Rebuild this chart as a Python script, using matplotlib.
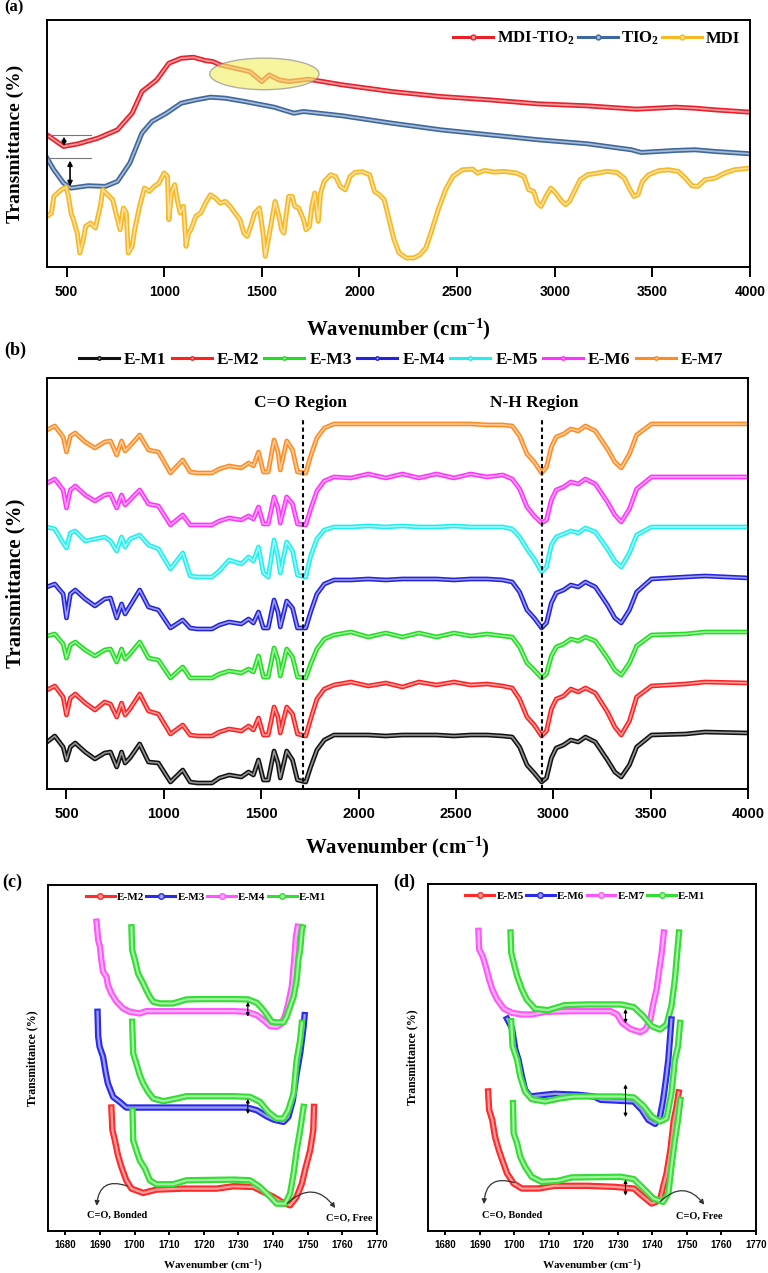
import matplotlib
matplotlib.use('Agg')
import matplotlib.pyplot as plt
import matplotlib.patheffects as pe
from matplotlib.patches import Ellipse
from matplotlib.lines import Line2D
from matplotlib.colors import to_rgb

SERIF = 'Liberation Serif'
SANS = 'Liberation Sans'
plt.rcParams['mathtext.fontset'] = 'custom'
plt.rcParams['mathtext.rm'] = 'Liberation Serif:bold'
plt.rcParams['mathtext.it'] = 'Liberation Serif:bold'
plt.rcParams['mathtext.bf'] = 'Liberation Serif:bold'

# ---------------- panel (a) data ----------------
WN_MDI_TIO2 = [400, 485, 560, 661, 761, 836, 886, 962, 1024, 1087, 1150, 1212, 1250, 1287, 1363, 1438,
               1500, 1538, 1588, 1638, 1739, 1914, 2165, 2416, 2666, 2917, 3168, 3418, 3619, 3719, 3820, 4000]
T_MDI_TIO2 = [397, 362, 370, 387, 412, 462, 527, 562, 612, 627, 630, 620, 617, 607, 597, 587,
              557, 577, 562, 557, 564, 547, 527, 512, 502, 490, 484, 474, 480, 477, 472, 465]

WN_TIO2 = [400, 435, 485, 523, 611, 698, 761, 824, 886, 937, 1012, 1087, 1162, 1237, 1313, 1413,
           1563, 1664, 1714, 1914, 2165, 2416, 2666, 2917, 3168, 3393, 3443, 3619, 3719, 3820, 4000]
T_TIO2 = [327, 292, 252, 237, 244, 242, 257, 312, 402, 437, 462, 492, 502, 510, 507, 497,
          480, 462, 467, 454, 432, 412, 397, 382, 370, 352, 344, 350, 352, 347, 340]

WN_MDI = [400, 423, 435, 473, 498, 510, 523, 535, 555, 568, 586, 598, 623, 648, 673, 686, 711, 736,
          761, 774, 791, 806, 816, 836, 849, 874, 899, 924, 949, 974, 999, 1017, 1024, 1037, 1054,
          1067, 1082, 1099, 1112, 1125, 1137, 1162, 1187, 1212, 1237, 1262, 1287, 1313, 1338, 1363,
          1388, 1408, 1425, 1443, 1463, 1488, 1506, 1518, 1533, 1551, 1568, 1588, 1601, 1613, 1626,
          1638, 1656, 1669, 1689, 1714, 1726, 1744, 1756, 1771, 1789, 1801, 1819, 1852, 1877, 1902,
          1927, 1952, 1977, 2014, 2052, 2077, 2102, 2127, 2152, 2177, 2203, 2240, 2278, 2310, 2340,
          2366, 2403, 2441, 2478, 2528, 2579, 2604, 2641, 2691, 2742, 2804, 2842, 2867, 2892, 2912,
          2930, 2955, 2980, 3005, 3030, 3055, 3075, 3105, 3130, 3168, 3218, 3268, 3318, 3356, 3381,
          3406, 3426, 3449, 3481, 3531, 3581, 3632, 3669, 3702, 3732, 3770, 3820, 3870, 3920, 4000]
T_MDI = [152, 162, 212, 232, 240, 212, 162, 142, 102, 42, 82, 122, 132, 117, 182, 232, 217, 202,
         142, 112, 177, 162, 42, 62, 112, 182, 237, 227, 242, 252, 282, 272, 142, 222, 247,
         202, 162, 182, 62, 102, 112, 152, 162, 192, 217, 207, 192, 197, 182, 162,
         142, 102, 92, 122, 162, 177, 102, 32, 82, 142, 197, 152, 112, 102, 162,
         212, 212, 182, 177, 142, 112, 122, 182, 222, 137, 222, 257, 277, 272, 242,
         232, 272, 284, 286, 277, 227, 217, 202, 142, 82, 42, 27, 27, 37, 57,
         102, 172, 232, 272, 292, 294, 282, 290, 285, 287, 282, 272, 232, 227, 192,
         182, 212, 237, 222, 202, 187, 197, 232, 262, 277, 282, 287, 284, 267, 237,
         212, 217, 257, 277, 289, 292, 287, 267, 244, 242, 262, 267, 282, 292, 297]

# ---------------- panel (b) data ----------------
WN_B = [400, 440, 483, 500, 520, 545, 596, 646, 696, 726, 758, 783, 801, 826, 876, 921, 972, 1034,
        1097, 1135, 1172, 1247, 1285, 1335, 1398, 1435, 1460, 1486, 1511, 1536, 1566, 1586, 1598,
        1631, 1661, 1686, 1729, 1754, 1786, 1824, 1874, 1960, 2050, 2140, 2225, 2310, 2400, 2490,
        2576, 2660, 2740, 2789, 2827, 2865, 2902, 2940, 2965, 2990, 3015, 3053, 3090, 3128, 3165,
        3216, 3278, 3316, 3349, 3391, 3428, 3504, 3679, 3779, 4000]
SAMPLES_B = ['E-M1', 'E-M2', 'E-M3', 'E-M4', 'E-M5', 'E-M6', 'E-M7']
T_EM1 = [47, 53, 42, 29, 42, 46, 37, 30, 36, 37, 22, 37, 26, 31, 45, 27, 26, 7, 19, 7,
         6, 6, 11, 14, 12, 17, 14, 29, 9, 9, 38, 26, 11, 38, 29, 9, 7, 22, 39, 49, 54,
         54, 54, 53, 54, 54, 54, 53, 54, 54, 53,
         52, 42, 24, 16, 7, 11, 31, 41, 44, 49, 47, 52, 47, 29, 17, 12, 24, 42, 54, 55, 57, 56]
T_EM2 = [49, 53, 42, 24, 41, 45, 36, 29, 37, 35, 22, 36, 24, 30, 45, 28, 25, 5, 14, 4,
         3, 3, 7, 10, 8, 13, 9, 21, 4, 4, 32, 22, 6, 32, 25, 5, 3, 20, 40, 50, 54,
         57, 53, 56, 52, 57, 54, 57, 54, 55, 53,
         51, 40, 22, 14, 3, 8, 30, 40, 43, 50, 47, 51, 46, 27, 12, 4, 18, 42, 53, 55, 57, 56]
T_EM3 = [53, 55, 45, 31, 44, 47, 39, 33, 39, 40, 27, 40, 30, 35, 47, 31, 29, 11, 22, 11,
         11, 11, 15, 18, 16, 20, 17, 33, 12, 12, 41, 29, 13, 40, 32, 12, 11, 25, 40, 50, 54,
         57, 52, 56, 52, 56, 52, 56, 53, 55, 53,
         52, 42, 26, 19, 11, 15, 33, 42, 45, 50, 48, 52, 48, 31, 19, 14, 26, 43, 54, 55, 57, 57]
T_EM4 = [47, 50, 40, 16, 40, 44, 35, 28, 35, 36, 16, 30, 20, 28, 44, 27, 24, 6, 14, 6,
         5, 5, 9, 12, 10, 15, 11, 22, 6, 6, 34, 22, 7, 33, 26, 6, 6, 22, 40, 50, 54,
         54, 55, 54, 55, 55, 55, 54, 55, 55, 54,
         52, 42, 24, 16, 6, 11, 31, 41, 44, 49, 47, 52, 47, 29, 16, 11, 24, 42, 55, 57, 58, 56]
T_EM5 = [54, 52, 38, 33, 48, 50, 40, 42, 44, 40, 30, 44, 34, 42, 46, 36, 32, 12, 28, 5,
         4, 4, 10, 21, 17, 24, 20, 34, 8, 4, 41, 24, 8, 39, 30, 6, 4, 25, 42, 51, 54,
         54, 55, 54, 55, 54, 54, 55, 54, 54, 54,
         52, 44, 32, 22, 9, 14, 36, 44, 47, 50, 48, 53, 49, 32, 20, 14, 28, 46, 54, 54, 54, 54]
T_EM6 = [48, 52, 41, 23, 41, 45, 36, 30, 36, 37, 23, 36, 26, 31, 41, 27, 25, 6, 16, 6,
         6, 6, 10, 13, 11, 15, 12, 24, 7, 7, 34, 23, 8, 34, 27, 7, 6, 22, 40, 50, 54,
         53, 57, 53, 57, 53, 57, 53, 57, 54, 56,
         52, 42, 24, 15, 8, 11, 31, 41, 44, 49, 47, 52, 47, 29, 16, 9, 22, 42, 54, 54, 54, 54]
T_EM7 = [48, 52, 41, 26, 42, 45, 36, 30, 36, 37, 23, 37, 27, 32, 43, 28, 26, 5, 18, 6,
         5, 5, 9, 12, 10, 15, 12, 26, 6, 6, 38, 26, 8, 37, 28, 6, 5, 22, 40, 50, 54,
         54, 54, 54, 54, 54, 54, 54, 54, 53, 53,
         52, 42, 24, 16, 5, 11, 31, 41, 44, 49, 47, 52, 47, 29, 16, 10, 24, 43, 54, 54, 54, 54]
CO_REGION = 1716
NH_REGION = 2942

# ---------------- panel (c) data ----------------
C_M4_X = [1689.0, 1689.5, 1690.0, 1690.4, 1690.9, 1691.9, 1692.3, 1693.3, 1694.8, 1696.7, 1698.6, 1701.5,
          1703.4, 1709.2, 1718.9, 1728.5, 1732.4, 1735.3, 1737.2, 1739.2, 1741.0, 1742.5, 1743.5, 1744.4,
          1745.4, 1746.1, 1746.6, 1747.1]
C_M4_Y = [927, 872, 852, 812, 777, 762, 737, 712, 687, 667, 657, 652, 659, 659, 659, 659, 657, 647, 632, 614,
          612, 622, 647, 682, 732, 812, 882, 912]
C_M1A_X = [1699.1, 1699.3, 1700.1, 1701.0, 1702.5, 1703.4, 1704.4, 1705.4, 1707.3, 1711.1, 1715.0, 1718.9,
           1728.5, 1732.8, 1735.3, 1737.2, 1738.6, 1739.6, 1741.0, 1743.0, 1743.9, 1744.9, 1745.9, 1746.8,
           1747.3, 1747.8, 1748.3, 1748.5]
C_M1A_Y = [910, 842, 812, 772, 742, 722, 702, 687, 682, 682, 694, 695, 695, 694, 684, 662, 642, 627, 625, 625,
           642, 672, 702, 752, 812, 842, 902, 910]
C_M3_X = [1689.3, 1689.5, 1689.9, 1690.9, 1691.7, 1692.3, 1693.8, 1695.7, 1697.6, 1704.4, 1718.9, 1732.4,
          1735.3, 1738.1, 1740.1, 1743.0, 1744.4, 1745.7, 1746.8, 1747.8, 1748.8, 1749.1]
C_M3_Y = [657, 582, 552, 522, 472, 442, 402, 387, 370, 370, 370, 370, 362, 344, 334, 327, 342, 392, 472, 532,
          612, 647]
C_M1B_X = [1699.3, 1699.6, 1700.5, 1701.5, 1702.5, 1703.9, 1705.4, 1708.3, 1712.1, 1715.0, 1728.5, 1733.3,
           1736.2, 1738.6, 1741.0, 1743.0, 1744.4, 1745.9, 1746.8, 1747.8, 1748.3]
C_M1B_Y = [627, 532, 502, 467, 442, 417, 397, 389, 397, 404, 404, 402, 387, 357, 337, 337, 362, 412, 512, 572,
           624]
C_M2_X = [1693.3, 1693.6, 1694.3, 1695.2, 1696.2, 1697.6, 1699.1, 1702.5, 1706.3, 1714.0, 1723.7, 1728.5,
          1734.3, 1737.2, 1740.1, 1743.0, 1744.9, 1746.8, 1748.3, 1749.2, 1750.7, 1751.6, 1751.8]
C_M2_Y = [370, 302, 272, 227, 192, 152, 127, 114, 124, 127, 127, 134, 132, 117, 102, 84, 77, 102, 142, 182,
          242, 302, 372]
C_M1C_X = [1699.4, 1699.6, 1700.5, 1701.5, 1703.0, 1704.4, 1706.3, 1711.1, 1715.0, 1728.5, 1733.3, 1736.2,
           1739.2, 1741.0, 1743.5, 1744.9, 1745.9, 1746.8, 1747.8, 1748.8]
C_M1C_Y = [362, 272, 242, 212, 187, 152, 140, 140, 152, 154, 152, 132, 102, 82, 82, 112, 172, 242, 302, 372]

# ---------------- panel (d) data ----------------
D_M7_X = [1689.6, 1689.8, 1690.8, 1691.7, 1692.7, 1693.6, 1695.0, 1697.0, 1699.3, 1702.2, 1705.0, 1708.9,
          1716.5, 1727.9, 1729.8, 1731.2, 1733.6, 1736.5, 1737.9, 1739.3, 1740.3, 1741.2, 1742.0, 1742.7,
          1743.3]
D_M7_Y = [897, 842, 822, 792, 752, 722, 692, 664, 652, 647, 647, 655, 657, 657, 647, 622, 604, 594, 602, 627,
          682, 722, 782, 832, 892]
D_M1A_X = [1698.9, 1699.1, 1699.8, 1700.8, 1702.2, 1703.6, 1706.0, 1709.8, 1714.6, 1721.2, 1730.8, 1734.6,
           1737.4, 1739.8, 1742.2, 1744.1, 1745.5, 1746.5, 1747.0, 1747.7]
D_M1A_Y = [892, 832, 802, 762, 722, 692, 664, 660, 675, 677, 677, 669, 642, 612, 602, 617, 672, 752, 812, 892]
D_M6_X = [1697.9, 1699.3, 1700.3, 1701.2, 1702.2, 1703.1, 1704.6, 1708.9, 1711.7, 1718.4, 1723.1, 1725.0,
          1730.8, 1734.6, 1736.9, 1738.8, 1740.8, 1742.2, 1743.1, 1743.9, 1744.6, 1745.2, 1745.5]
D_M6_Y = [634, 607, 542, 512, 462, 422, 402, 407, 410, 407, 402, 392, 389, 387, 362, 332, 320, 342, 392, 452,
          512, 592, 632]
D_M1B_X = [1699.1, 1699.5, 1700.8, 1701.7, 1703.1, 1705.0, 1708.9, 1713.6, 1717.4, 1730.8, 1734.6, 1737.4,
           1739.8, 1742.2, 1744.1, 1745.5, 1746.5, 1747.4, 1748.0]
D_M1B_Y = [627, 552, 512, 462, 417, 394, 387, 397, 402, 402, 399, 374, 342, 327, 337, 412, 512, 552, 622]
D_M5_X = [1692.4, 1692.7, 1693.6, 1694.4, 1695.5, 1696.5, 1697.9, 1699.8, 1702.2, 1707.0, 1711.7, 1721.2,
          1728.9, 1734.6, 1737.4, 1739.8, 1742.2, 1743.1, 1744.1, 1745.2, 1746.2, 1747.0, 1747.6]
D_M5_Y = [417, 362, 332, 282, 242, 212, 172, 142, 127, 127, 135, 135, 132, 127, 102, 82, 92, 132, 172, 242,
          332, 372, 414]
D_M1C_X = [1699.6, 1699.8, 1700.8, 1701.7, 1703.1, 1705.0, 1707.9, 1712.7, 1716.5, 1730.8, 1734.6, 1737.4,
           1740.3, 1743.1, 1744.6, 1745.5, 1746.5, 1747.4, 1748.1]
D_M1C_Y = [382, 292, 262, 222, 192, 162, 147, 150, 160, 162, 155, 127, 97, 87, 112, 192, 272, 332, 392]

# ---------------- styling ----------------
COL_A = {'MDI-TIO$_{2}$': '#e8202a', 'TIO$_{2}$': '#3d679e', 'MDI': '#f6b823'}
COL_B = ['#111111', '#ff2020', '#22dd22', '#2323dd', '#22eeee', '#ff33ff', '#ff8c22']
OFFSET_B = [0, 50, 100, 155, 208, 258, 311]
COL_CD = {'red': '#ff2a2a', 'blue': '#2a2aee', 'magenta': '#ff55ff', 'green': '#33dd33'}


def light(c, f=0.55):
    r, g, b = to_rgb(c)
    return (r + (1 - r) * f, g + (1 - g) * f, b + (1 - b) * f)


def bead(ax, x, y, color, w=3.0):
    ax.plot(x, y, color=light(color), lw=w * 0.35, solid_joinstyle='round',
            path_effects=[pe.Stroke(linewidth=w, foreground=color), pe.Normal()])


def frame(ax, ticks, fs, length, pad):
    for s in ax.spines.values():
        s.set_linewidth(1.4)
    ax.set_yticks([])
    ax.set_xticks(ticks)
    ax.set_xticklabels([str(t) for t in ticks], fontfamily=SANS, fontweight='bold', fontsize=fs)
    ax.tick_params(axis='x', direction='out', length=length, width=1.4, pad=pad)


def handle(c, ms=3.5):
    return Line2D([], [], color=c, lw=2.2, marker='o', ms=ms, mfc=light(c), mec=c)


fig = plt.figure(figsize=(7.68, 12.73), dpi=100)

# ---------------- (a) ----------------
ax = fig.add_axes([0.0612, 0.7903, 0.9154, 0.1940])
bead(ax, WN_MDI_TIO2, T_MDI_TIO2, COL_A['MDI-TIO$_{2}$'], w=3.6)
bead(ax, WN_TIO2, T_TIO2, COL_A['TIO$_{2}$'], w=3.6)
bead(ax, WN_MDI, T_MDI, COL_A['MDI'], w=3.6)
ax.add_patch(Ellipse((1513, 580), 560, 95, facecolor='#f3ef6a', edgecolor='#888888', lw=1, alpha=0.65, zorder=3))
ax.plot([400, 625], [T_MDI_TIO2[0], T_MDI_TIO2[0]], color='#777777', lw=0.8)
ax.plot([400, 625], [T_TIO2[0], T_TIO2[0]], color='#777777', lw=0.8)
ax.annotate('', xy=(487, 355), xytext=(487, 400), arrowprops=dict(arrowstyle='<|-|>', color='k', lw=1.2, mutation_scale=6))
ax.annotate('', xy=(518, 234), xytext=(518, 328), arrowprops=dict(arrowstyle='<|-|>', color='k', lw=1.2, mutation_scale=7))
ax.set_xlim(400, 4000)
ax.set_ylim(0, 742)
frame(ax, list(range(500, 4001, 500)), 10, 7, 6)
ax.set_xlabel('Wavenumber (cm$^{-1}$)', fontfamily=SERIF, fontweight='bold', fontsize=15)
ax.xaxis.set_label_coords(0.5, -0.2)
ax.set_ylabel('Transmittance (%)', fontfamily=SERIF, fontweight='bold', fontsize=14)
ax.yaxis.set_label_coords(-0.033, 0.5)
ax.legend([handle(c) for c in COL_A.values()], list(COL_A.keys()), loc='upper right', ncol=3, frameon=False,
          prop=dict(family=SERIF, weight='bold', size=12), handlelength=2.4, handletextpad=0.2,
          columnspacing=0.2, borderaxespad=0.2, bbox_to_anchor=(1.0, 1.0))
fig.text(0.006, 0.9945, '(a)', fontfamily=SERIF, fontweight='bold', fontsize=12, va='center')

# ---------------- (b) ----------------
ax = fig.add_axes([0.0612, 0.3802, 0.9128, 0.3229])
series_b = [T_EM1, T_EM2, T_EM3, T_EM4, T_EM5, T_EM6, T_EM7]
for vals, col, off in zip(series_b, COL_B, OFFSET_B):
    bead(ax, WN_B, [v + off for v in vals], col, w=3.4)
for xr in (CO_REGION, NH_REGION):
    ax.plot([xr, xr], [0, 369], color='k', lw=1.5, ls=(0, (2, 1.5)))
ax.text(1701, 386, 'C=O Region', ha='center', va='center', fontfamily=SERIF, fontweight='bold', fontsize=12.5)
ax.text(2902, 386, 'N-H Region', ha='center', va='center', fontfamily=SERIF, fontweight='bold', fontsize=12.5)
ax.set_xlim(400, 4000)
ax.set_ylim(0, 411)
frame(ax, list(range(500, 4001, 500)), 10.5, 7, 6)
ax.set_xlabel('Wavenumber (cm$^{-1}$)', fontfamily=SERIF, fontweight='bold', fontsize=15)
ax.xaxis.set_label_coords(0.5, -0.112)
ax.set_ylabel('Transmittance (%)', fontfamily=SERIF, fontweight='bold', fontsize=15)
ax.yaxis.set_label_coords(-0.031, 0.5)
ax.legend([handle(c, 2.5) for c in COL_B], SAMPLES_B, loc='center', ncol=7, frameon=False,
          prop=dict(family=SERIF, weight='bold', size=12.5), handlelength=2.3, handletextpad=0.3,
          columnspacing=0.3, bbox_to_anchor=(0.505, 1.044))
fig.text(0.006, 0.725, '(b)', fontfamily=SERIF, fontweight='bold', fontsize=13, va='center')


# ---------------- (c) and (d) ----------------
def zoom_panel(rect, curves, names, colors, arrows, bonded, free, tag, tag_x):
    ax = fig.add_axes(rect)
    for (x, y), c in curves:
        bead(ax, x, y, c, w=4.6)
    for xa, y0, y1 in arrows:
        ax.annotate('', xy=(xa, y1), xytext=(xa, y0),
                    arrowprops=dict(arrowstyle='<|-|>', color='k', lw=0.8, mutation_scale=5))
    ax.annotate('', xy=bonded[2], xytext=bonded[1],
                arrowprops=dict(arrowstyle='-|>', color='#333333', lw=0.9, mutation_scale=7,
                                connectionstyle='arc3,rad=0.7'))
    ax.text(bonded[0][0], bonded[0][1], 'C=O, Bonded', ha='center', va='center', fontfamily=SERIF,
            fontweight='bold', fontsize=7.5)
    ax.annotate('', xy=free[2], xytext=free[1],
                arrowprops=dict(arrowstyle='-|>', color='#333333', lw=0.9, mutation_scale=7,
                                connectionstyle='arc3,rad=-0.6'))
    ax.text(free[0][0], free[0][1], 'C=O, Free', ha='center', va='center', fontfamily=SERIF,
            fontweight='bold', fontsize=7.5)
    ax.set_xlim(1675, 1770)
    ax.set_ylim(0, 1037)
    frame(ax, list(range(1680, 1771, 10)), 7, 3, 3.5)
    ax.set_xlabel('Wavenumber (cm$^{-1}$)', fontfamily=SERIF, fontweight='bold', fontsize=8)
    ax.xaxis.set_label_coords(0.5, -0.078)
    ax.set_ylabel('Transmittance (%)', fontfamily=SERIF, fontweight='bold', fontsize=8.5)
    ax.yaxis.set_label_coords(-0.03, 0.5)
    ax.legend([handle(c, 4) for c in colors], names, loc='center', ncol=4, frameon=False,
              prop=dict(family=SERIF, weight='bold', size=8), handlelength=2.6, handletextpad=0.2,
              columnspacing=0.2, bbox_to_anchor=(0.48, 0.965))
    fig.text(tag_x, 0.307, tag, fontfamily=SERIF, fontweight='bold', fontsize=13, va='center')
    return ax


R, B, M, G = COL_CD['red'], COL_CD['blue'], COL_CD['magenta'], COL_CD['green']
zoom_panel([0.0625, 0.0330, 0.4284, 0.2718],
           [((C_M4_X, C_M4_Y), M), ((C_M1A_X, C_M1A_Y), G), ((C_M3_X, C_M3_Y), B),
            ((C_M1B_X, C_M1B_Y), G), ((C_M2_X, C_M2_Y), R), ((C_M1C_X, C_M1C_Y), G)],
           ['E-M2', 'E-M3', 'E-M4', 'E-M1'], [R, B, M, G],
           [(1732.7, 695, 634), (1732.7, 404, 342)],
           ((1695, 47), (1698.6, 132), (1689, 67)),
           ((1762, 37), (1743.5, 77), (1758.4, 62)),
           '(c)', 0.003)
zoom_panel([0.5573, 0.0330, 0.4271, 0.2726],
           [((D_M7_X, D_M7_Y), M), ((D_M1A_X, D_M1A_Y), G), ((D_M6_X, D_M6_Y), B),
            ((D_M1B_X, D_M1B_Y), G), ((D_M5_X, D_M5_Y), R), ((D_M1C_X, D_M1C_Y), G)],
           ['E-M5', 'E-M6', 'E-M7', 'E-M1'], [R, B, M, G],
           [(1732.2, 672, 612), (1732.2, 447, 332), (1732.2, 162, 97)],
           ((1699.3, 47), (1700.8, 142), (1691.2, 72)),
           ((1753.6, 45), (1741.7, 82), (1755.5, 72)),
           '(d)', 0.512)

fig.savefig('out.png', dpi=100)
